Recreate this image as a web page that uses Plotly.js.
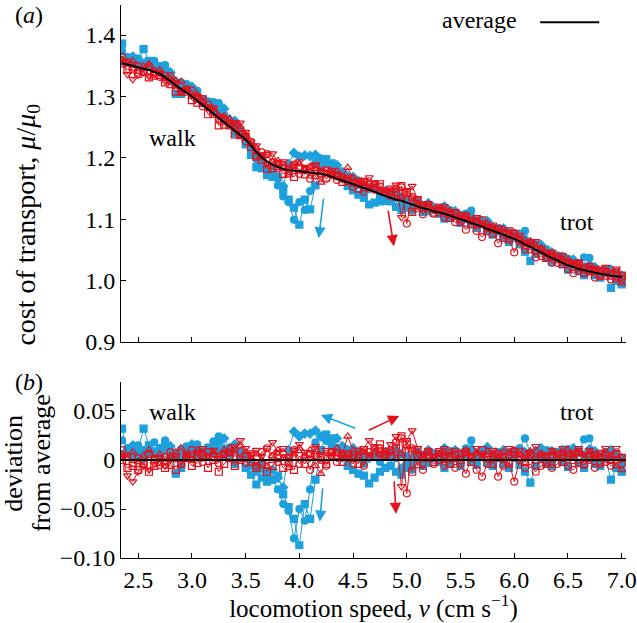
<!DOCTYPE html>
<html>
<head>
<meta charset="utf-8">
<script src="https://cdn.plot.ly/plotly-3.0.1.min.js"></script>
<style>
	body { margin: 0; background: #fff; }
	#chart { width: 637px; height: 623px; }
</style>
</head>
<body>
<div id="chart"></div>
<script>
// locomotion speed (cm/s), common grid for all runs
var speed = [2.35, 2.40, 2.45, 2.50, 2.55, 2.60, 2.65, 2.70, 2.75, 2.80,
	2.85, 2.90, 2.95, 3.00, 3.05, 3.10, 3.15, 3.20, 3.25, 3.30,
	3.35, 3.40, 3.45, 3.50, 3.55, 3.60, 3.65, 3.70, 3.75, 3.80,
	3.85, 3.90, 3.95, 4.00, 4.05, 4.10, 4.15, 4.20, 4.25, 4.30,
	4.35, 4.40, 4.45, 4.50, 4.55, 4.60, 4.65, 4.70, 4.75, 4.80,
	4.85, 4.90, 4.95, 5.00, 5.05, 5.10, 5.15, 5.20, 5.25, 5.30,
	5.35, 5.40, 5.45, 5.50, 5.55, 5.60, 5.65, 5.70, 5.75, 5.80,
	5.85, 5.90, 5.95, 6.00, 6.05, 6.10, 6.15, 6.20, 6.25, 6.30,
	6.35, 6.40, 6.45, 6.50, 6.55, 6.60, 6.65, 6.70, 6.75, 6.80,
	6.85, 6.90, 6.95, 7.00];

// average cost of transport mu/mu0
var avgCost = [1.354, 1.352, 1.350, 1.347, 1.345, 1.343, 1.340, 1.337, 1.331, 1.325,
	1.318, 1.312, 1.306, 1.300, 1.293, 1.286, 1.279, 1.272, 1.265, 1.258,
	1.251, 1.244, 1.237, 1.230, 1.220, 1.210, 1.201, 1.194, 1.189, 1.185,
	1.182, 1.180, 1.179, 1.178, 1.177, 1.176, 1.175, 1.174, 1.172, 1.169,
	1.166, 1.163, 1.160, 1.157, 1.154, 1.151, 1.148, 1.145, 1.141, 1.138,
	1.135, 1.132, 1.130, 1.127, 1.124, 1.121, 1.118, 1.116, 1.113, 1.111,
	1.109, 1.106, 1.103, 1.100, 1.097, 1.094, 1.091, 1.088, 1.084, 1.081,
	1.078, 1.075, 1.071, 1.068, 1.064, 1.059, 1.055, 1.050, 1.046, 1.041,
	1.037, 1.033, 1.029, 1.025, 1.022, 1.019, 1.017, 1.015, 1.013, 1.011,
	1.010, 1.008, 1.007, 1.006];

// deviation from average, one array per run
var devBlueCircle = [0.020, 0.012, 0.008, 0.015, 0.010, 0.006, 0.018, 0.012, 0.020, 0.009,
	0.004, 0.011, 0.014, 0.007, 0.016, 0.010, 0.013, 0.019, 0.024, 0.012,
	0.008, 0.010, 0.006, 0.002, -0.006, -0.012, -0.009, -0.016, -0.020, -0.030,
	-0.045, -0.052, -0.080, -0.050, -0.062, -0.030, 0.018, 0.024, 0.020, 0.015,
	0.012, 0.008, 0.004, 0.006, 0.002, -0.004, 0.003, 0.005, -0.002, 0.004,
	0.006, 0.002, -0.008, 0.004, -0.010, 0.003, 0.005, 0.008, 0.002, 0.006,
	0.004, 0.009, 0.003, 0.007, 0.012, 0.020, 0.006, 0.004, 0.010, 0.002,
	0.008, 0.005, 0.003, 0.009, 0.012, 0.022, 0.007, 0.004, 0.006, 0.010,
	0.003, 0.008, 0.005, 0.011, 0.007, 0.009, 0.021, 0.022, 0.006, 0.004,
	0.008, 0.003, 0.006, -0.005];

var devBlueSquare = [0.032, 0.008, 0.003, 0.010, 0.032, 0.015, 0.006, 0.012, 0.017, 0.002,
	-0.014, -0.008, 0.005, 0.010, 0.003, 0.008, 0.012, 0.006, 0.009, 0.004,
	0.006, -0.004, 0.002, -0.008, -0.015, -0.025, -0.018, -0.022, -0.020, -0.016,
	-0.035, -0.048, -0.060, -0.087, -0.045, -0.060, -0.020, 0.010, 0.026, 0.022,
	0.012, 0.004, -0.006, -0.010, -0.014, -0.016, -0.024, -0.018, -0.012, -0.008,
	-0.006, -0.012, -0.015, -0.008, -0.004, 0.002, -0.006, -0.003, 0.004, -0.002,
	-0.008, -0.004, 0.002, -0.006, 0.003, -0.002, -0.005, 0.004, -0.003, -0.006,
	0.002, -0.004, -0.008, 0.003, -0.005, -0.012, -0.023, -0.006, 0.002, -0.004,
	-0.006, 0.003, -0.002, -0.007, 0.004, -0.003, -0.008, 0.002, -0.004, -0.006,
	0.002, -0.020, -0.008, -0.012];

var devBlueDiamond = [0.004, 0.010, 0.015, 0.006, 0.002, 0.012, 0.008, 0.004, 0.010, 0.014,
	0.006, 0.002, 0.010, 0.016, 0.008, 0.004, 0.009, 0.014, 0.018, 0.022,
	0.012, 0.016, 0.008, 0.004, 0.000, -0.008, -0.004, -0.012, -0.010, -0.018,
	-0.028, 0.010, 0.029, 0.024, 0.027, 0.027, 0.030, 0.024, 0.020, 0.018,
	0.022, 0.014, 0.010, 0.012, 0.008, 0.005, 0.002, 0.006, 0.004, 0.008,
	0.003, 0.010, 0.006, -0.004, 0.002, 0.008, 0.004, 0.010, 0.006, 0.003,
	0.012, 0.007, 0.010, 0.004, 0.008, 0.011, 0.005, 0.009, 0.013, 0.006,
	0.004, 0.010, 0.007, 0.003, 0.011, 0.008, 0.005, 0.009, 0.012, 0.006,
	0.009, 0.004, 0.010, 0.006, 0.012, 0.008, 0.005, 0.011, 0.009, 0.003,
	0.007, 0.010, 0.004, 0.002];

var devRedCircle = [0.010, 0.004, -0.003, 0.002, -0.004, 0.006, 0.000, -0.005, 0.003, 0.008,
	0.002, -0.004, 0.006, 0.010, 0.004, -0.002, 0.008, 0.003, -0.003, 0.006,
	0.004, 0.010, 0.002, -0.003, 0.006, -0.006, 0.008, 0.012, 0.004, -0.002,
	0.006, 0.002, 0.010, -0.004, 0.003, -0.010, 0.005, 0.000, -0.006, 0.004,
	-0.002, 0.006, 0.002, -0.004, 0.004, -0.006, 0.008, 0.003, 0.012, 0.006,
	0.010, 0.018, 0.022, -0.034, 0.012, 0.004, -0.010, 0.002, -0.004, 0.000,
	-0.006, 0.002, -0.008, -0.004, -0.014, 0.003, -0.010, -0.017, -0.004, 0.002,
	-0.017, -0.006, -0.002, -0.022, 0.000, -0.008, -0.004, -0.012, -0.006, -0.002,
	-0.008, -0.004, 0.002, -0.006, -0.010, -0.003, -0.005, 0.000, -0.008, -0.004,
	-0.002, -0.006, 0.000, -0.004];

var devRedSquare = [0.000, -0.008, -0.006, -0.010, -0.004, -0.012, -0.006, -0.002, -0.008, -0.005,
	-0.010, -0.004, 0.002, -0.006, -0.003, 0.004, -0.008, 0.000, -0.012, -0.004,
	0.002, -0.006, 0.000, 0.004, -0.002, -0.008, -0.004, -0.012, -0.006, 0.002,
	-0.008, -0.002, -0.010, 0.004, -0.004, 0.006, 0.010, 0.002, -0.004, 0.008,
	0.004, -0.002, 0.006, 0.002, -0.004, 0.010, 0.004, 0.012, 0.016, 0.006,
	0.004, 0.012, 0.024, 0.016, -0.012, 0.010, 0.002, 0.006, -0.002, 0.008,
	0.002, -0.004, 0.006, 0.000, 0.008, -0.002, 0.004, 0.010, 0.002, -0.004,
	0.006, 0.002, -0.004, 0.008, 0.003, -0.002, 0.006, 0.000, 0.004, -0.004,
	0.002, 0.006, -0.002, 0.004, 0.000, 0.008, -0.004, 0.002, 0.005, -0.002,
	0.004, 0.000, 0.006, 0.002];

var devRedTriUp = [0.006, 0.002, 0.008, -0.002, 0.004, 0.010, 0.002, 0.006, -0.002, 0.004,
	0.008, 0.012, 0.004, 0.000, 0.010, 0.006, 0.002, 0.008, 0.004, 0.010,
	0.012, 0.006, 0.014, 0.008, 0.002, 0.006, 0.000, -0.006, 0.004, 0.010,
	0.002, -0.008, 0.006, 0.012, 0.004, 0.010, -0.006, -0.014, 0.002, 0.008,
	0.012, 0.006, 0.024, 0.010, 0.004, 0.008, 0.002, 0.012, 0.006, 0.004,
	0.008, 0.002, 0.006, 0.014, 0.010, -0.006, 0.004, 0.008, 0.002, 0.006,
	0.004, 0.008, 0.000, 0.006, 0.010, 0.003, 0.007, 0.002, 0.009, 0.005,
	0.003, 0.008, 0.004, 0.010, 0.002, 0.006, 0.009, 0.003, 0.007, 0.004,
	0.008, 0.002, 0.006, 0.010, 0.004, 0.007, 0.002, 0.008, 0.005, 0.003,
	0.006, 0.002, -0.006, -0.010];

var devRedTriDown = [0.004, -0.016, -0.022, -0.012, -0.006, -0.010, -0.004, 0.002, -0.006, 0.000,
	0.004, -0.002, 0.006, 0.002, 0.008, 0.012, 0.004, 0.010, 0.002, 0.006,
	0.008, 0.014, 0.020, 0.012, 0.006, 0.010, 0.004, 0.012, 0.018, 0.008,
	0.012, 0.004, 0.010, 0.016, 0.008, 0.002, 0.014, 0.006, 0.010, 0.004,
	0.008, 0.002, 0.006, 0.004, 0.010, 0.012, 0.020, 0.014, 0.006, 0.010,
	0.016, 0.024, -0.027, 0.020, 0.030, 0.012, 0.006, 0.010, 0.004, 0.008,
	0.012, 0.006, 0.010, 0.002, 0.008, 0.004, 0.012, 0.006, 0.002, 0.010,
	0.008, 0.004, 0.012, 0.006, 0.010, 0.002, 0.008, 0.014, 0.006, 0.004,
	0.010, 0.006, 0.012, 0.004, 0.008, 0.012, 0.006, 0.010, 0.004, 0.008,
	0.012, 0.006, 0.012, 0.004];

var blue = "#1ea0dc";
var red = "#e2121c";
var serif = "Liberation Serif";

var runs = [
	{dev: devBlueCircle, color: blue, symbol: "circle"},
	{dev: devBlueSquare, color: blue, symbol: "square"},
	{dev: devBlueDiamond, color: blue, symbol: "diamond"},
	{dev: devRedCircle, color: red, symbol: "circle-open"},
	{dev: devRedSquare, color: red, symbol: "square-open"},
	{dev: devRedTriUp, color: red, symbol: "triangle-up-open"},
	{dev: devRedTriDown, color: red, symbol: "triangle-down-open"}
];

var data = [];

for (var r = 0; r < runs.length; r++) {
	var cost = [];
	for (var i = 0; i < speed.length; i++) {
		cost.push(avgCost[i] + runs[r].dev[i]);
	}
	var marker = {
		symbol: runs[r].symbol,
		size: 7,
		color: runs[r].color,
		line: {color: runs[r].color, width: 1.2}
	};
	// (a) cost of transport
	data.push({
		mode: "lines+markers",
		x: speed,
		y: cost,
		xaxis: "x",
		yaxis: "y",
		marker: marker,
		line: {color: runs[r].color, width: 1}
	});
	// (b) deviation from average
	data.push({
		mode: "lines+markers",
		x: speed,
		y: runs[r].dev,
		xaxis: "x2",
		yaxis: "y2",
		marker: marker,
		line: {color: runs[r].color, width: 1}
	});
}

data.push({
	mode: "lines",
	x: speed,
	y: avgCost,
	xaxis: "x",
	yaxis: "y",
	line: {color: "#000000", width: 2, shape: "spline"}
});

var axisBase = {
	showline: true,
	linecolor: "#000000",
	linewidth: 1,
	ticks: "inside",
	ticklen: 5,
	tickcolor: "#000000",
	showgrid: false,
	zeroline: false,
	tickfont: {family: serif, size: 24, color: "#000000"}
};

function ax(extra) {
	return Object.assign({}, axisBase, extra);
}

function arrow(xr, yr, x, y, axp, ayp, color) {
	return {
		xref: xr, yref: yr, x: x, y: y,
		ax: axp, ay: ayp,
		showarrow: true, arrowhead: 2, arrowsize: 1.4, arrowwidth: 1.6,
		arrowcolor: color, text: ""
	};
}

function label(xr, yr, x, y, text, extra) {
	return Object.assign({
		xref: xr, yref: yr, x: x, y: y, text: text, showarrow: false,
		xanchor: "center", yanchor: "middle",
		font: {family: serif, size: 24, color: "#000000"}
	}, extra || {});
}

var titleFont = {family: serif, size: 26, color: "#000000"};

var layout = {
	width: 637,
	height: 623,
	margin: {l: 121, r: 11, t: 5, b: 65},
	paper_bgcolor: "#ffffff",
	plot_bgcolor: "#ffffff",
	showlegend: false,
	font: {family: serif, color: "#000000"},
	xaxis: ax({domain: [0, 1], anchor: "y", range: [2.34, 7.04], tick0: 2.5, dtick: 0.5, showticklabels: false}),
	yaxis: ax({domain: [0.3906, 1], anchor: "x", range: [0.9, 1.449], tick0: 0.9, dtick: 0.1, tickformat: ".1f"}),
	xaxis2: ax({domain: [0, 1], anchor: "y2", range: [2.34, 7.04], tick0: 2.5, dtick: 0.5, tickformat: ".1f",
		title: {text: "locomotion speed, <i>v</i> (cm s<sup>\u22121</sup>)", font: {family: serif, size: 25, color: "#000000"}, standoff: 6}}),
	yaxis2: ax({domain: [0, 0.3183], anchor: "x2", range: [-0.10, 0.0796],
		tickvals: [-0.10, -0.05, 0, 0.05], ticktext: ["\u22120.10", "\u22120.05", "0", "0.05"],
		zeroline: true, zerolinecolor: "#000000", zerolinewidth: 2, zerolinelayer: "above traces"}),
	shapes: [
		{type: "line", xref: "paper", yref: "paper", x0: 0.830, x1: 0.947, y0: 0.969, y1: 0.969,
			line: {color: "#000000", width: 2}}
	],
	annotations: [
		label("paper", "paper", -0.214, 0.982, "(<i>a</i>)", {xanchor: "left"}),
		label("paper", "paper", -0.214, 0.318, "(<i>b</i>)", {xanchor: "left"}),
		label("paper", "paper", -0.186, 0.603, "cost of transport, <i>\u03bc</i>/<i>\u03bc</i><sub>0</sub>",
			{textangle: -90, font: {family: serif, size: 28, color: "#000000"}}),
		label("paper", "paper", -0.212, 0.172, "deviation", {textangle: -90, font: titleFont}),
		label("paper", "paper", -0.156, 0.172, "from average", {textangle: -90, font: titleFont}),
		label("paper", "paper", 0.788, 0.973, "average", {xanchor: "right"}),
		label("x", "y", 2.82, 1.232, "walk"),
		label("x", "y", 6.58, 1.095, "trot"),
		label("x2", "y2", 2.82, 0.049, "walk"),
		label("x2", "y2", 6.58, 0.049, "trot"),
		arrow("x", "y", 4.18, 1.069, 5, -41, blue),
		arrow("x", "y", 4.88, 1.056, -6, -37, red),
		arrow("x2", "y2", 4.19, -0.063, 3, -35, blue),
		arrow("x2", "y2", 4.90, -0.055, -2, -34, red),
		arrow("x2", "y2", 4.20, 0.046, 36, 14, blue),
		arrow("x2", "y2", 4.93, 0.045, -32, 15, red)
	]
};

Plotly.newPlot("chart", data, layout, {displayModeBar: false, staticPlot: true});
</script>
</body>
</html>
